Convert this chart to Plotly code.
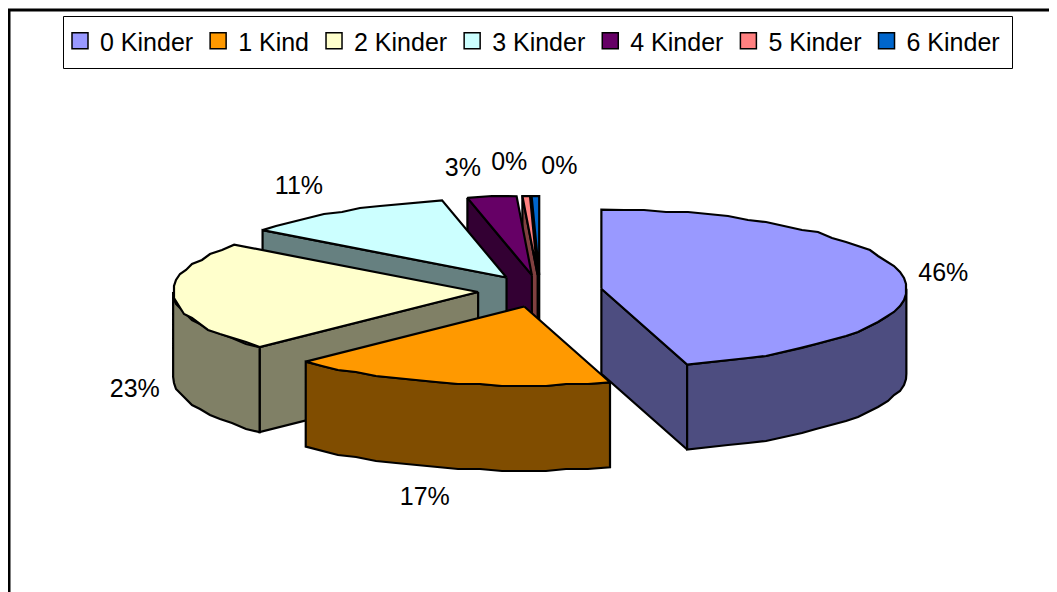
import math
import plotly.graph_objects as go

categories = ["0 Kinder", "1 Kind", "2 Kinder", "3 Kinder", "4 Kinder", "5 Kinder", "6 Kinder"]
shares = [45.6, 17.3, 22.6, 11.4, 2.6, 0.4, 0.4]
top_colors = ["#9999FF", "#FF9900", "#FFFFCC", "#CCFFFF", "#660066", "#FF8080", "#0066CC"]
side_colors = ["#4D4D80", "#804D00", "#808066", "#668080", "#330033", "#804040", "#003366"]
draw_order = [6, 5, 4, 3, 0, 2, 1]

# the page has an 8 px body margin, so the figure covers page pixels 8..1057 / 8..592
PAGE_W, PAGE_H, MARGIN = 1057, 592, 8
W, H = PAGE_W - MARGIN, PAGE_H - MARGIN
CX, CY, A, B = 540, 291, 305, 79
EX, EY, DEPTH = 62, 16, 85
label_nudges = [(40, -3), (-22, 31), (-39, 9), (-43, -23), (-29, -27), (-17, -32), (24, -28)]

total = sum(shares)
edges = [0.0]
for s in shares:
    edges.append(edges[-1] + s / total * 360)


def pt(ax, ay, deg):
    t = math.radians(deg)
    return ax + A * math.sin(t), ay - B * math.cos(t)


def arc(ax, ay, d1, d2, step=4.0):
    n = max(1, int(abs(d2 - d1) / step))
    out = []
    for i in range(n + 1):
        d = d1 + (d2 - d1) * i / n
        x, y = pt(ax, ay, d)
        if 0 < i < n:
            y = round(y / 2) * 2
            x = round(x / 2) * 2
        out.append((x, y))
    return out


def poly(points, color):
    xs = [p[0] for p in points] + [points[0][0]]
    ys = [p[1] for p in points] + [points[0][1]]
    return go.Scatter(x=xs, y=ys, mode="lines", fill="toself", fillcolor=color,
                      line=dict(color="black", width=2.2), hoverinfo="skip", showlegend=False)


fig = go.Figure()
for i in draw_order:
    d1, d2 = edges[i], edges[i + 1]
    mid = math.radians((d1 + d2) / 2)
    ax, ay = CX + EX * math.sin(mid), CY - EY * math.cos(mid)
    for d in (d1, d2):
        visible = math.sin(math.radians(d1)) < -1e-6 if d == d1 else math.sin(math.radians(d2)) > 1e-6
        if visible:
            x, y = pt(ax, ay, d)
            fig.add_trace(poly([(ax, ay), (x, y), (x, y + DEPTH), (ax, ay + DEPTH)], side_colors[i]))
    lo, hi = max(d1, 90), min(d2, 270)
    if lo < hi:
        a = arc(ax, ay, lo, hi)
        fig.add_trace(poly(a + [(x, y + DEPTH) for x, y in reversed(a)], side_colors[i]))
    fig.add_trace(poly([(ax, ay)] + arc(ax, ay, d1, d2), top_colors[i]))

for i, s in enumerate(shares):
    d = (edges[i] + edges[i + 1]) / 2
    mid = math.radians(d)
    ax, ay = CX + EX * math.sin(mid), CY - EY * math.cos(mid)
    x, y = pt(ax, ay, d)
    if math.cos(mid) < 0:
        y += DEPTH
    fig.add_trace(go.Scatter(x=[x + label_nudges[i][0]], y=[y + label_nudges[i][1]], mode="text",
                             text=[f"{round(s)}%"], textposition="middle center",
                             textfont=dict(family="Liberation Sans", size=25, color="black"),
                             hoverinfo="skip", showlegend=False))

for name, color in zip(categories, top_colors):
    fig.add_trace(go.Scatter(x=[None], y=[None], mode="markers", name=name,
                             marker=dict(symbol="square", size=17, color=color,
                                         line=dict(color="black", width=1.5))))

fig.update_layout(
    width=W, height=H, margin=dict(l=0, r=0, t=0, b=0),
    paper_bgcolor="white", plot_bgcolor="white",
    xaxis=dict(range=[MARGIN, PAGE_W], visible=False, fixedrange=True),
    yaxis=dict(range=[PAGE_H, MARGIN], visible=False, fixedrange=True),
    legend=dict(orientation="h", x=(60 - MARGIN) / W, y=1 - (41 - MARGIN) / H,
                xanchor="left", yanchor="middle",
                bgcolor="rgba(0,0,0,0)", borderwidth=0,
                font=dict(family="Liberation Sans", size=25, color="black"),
                traceorder="normal", itemwidth=30),
    shapes=[
        dict(type="path", path=f"M 9 {PAGE_H} L 9 10 L {PAGE_W} 10",
             line=dict(color="black", width=3), xref="x", yref="y"),
        dict(type="rect", x0=63.5, x1=1012.5, y0=16.5, y1=68.5,
             line=dict(color="black", width=1), fillcolor="white", xref="x", yref="y", layer="below"),
    ],
)
fig.write_html("out.html")
